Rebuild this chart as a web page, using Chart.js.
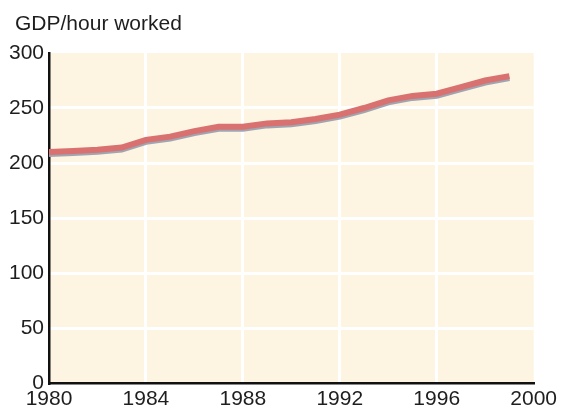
<!DOCTYPE html>
<html>
<head>
<meta charset="utf-8">
<script src="https://cdn.jsdelivr.net/npm/chart.js@4"></script>
<style>
  html, body { margin: 0; padding: 0; background: #fff; }
  #wrap { width: 561px; height: 410px; }
</style>
</head>
<body>
<div id="wrap"><canvas id="chart" width="561" height="410"></canvas></div>
<script>
// Values
const years = [1980, 1981, 1982, 1983, 1984, 1985, 1986, 1987, 1988, 1989,
               1990, 1991, 1992, 1993, 1994, 1995, 1996, 1997, 1998, 1999];
const gdpPerHour = [210, 211, 212, 214, 221, 224, 229, 233, 233, 236,
                    237, 240, 244, 250, 257, 261, 263, 269, 275, 279];
const xTicks = [1980, 1984, 1988, 1992, 1996, 2000];
const yTicks = [0, 50, 100, 150, 200, 250, 300];
const unitLabel = 'GDP/hour worked';

const font = 'Liberation Sans, Arial, sans-serif';
const fontSize = 21;

// cream plot background
const bgPlugin = {
    id: 'plotBg',
    beforeDraw(chart) {
        const { ctx, chartArea: a } = chart;
        ctx.save();
        ctx.fillStyle = '#fdf4e1';
        ctx.fillRect(a.left, a.top, a.right - a.left, a.bottom - a.top);
        ctx.restore();
    }
};

// grey drop shadow under the line
const shadowPlugin = {
    id: 'lineShadow',
    beforeDatasetDraw(chart) {
        const ctx = chart.ctx;
        ctx.save();
        ctx.shadowColor = '#a0a5b2';
        ctx.shadowOffsetX = 0;
        ctx.shadowOffsetY = 2;
        ctx.shadowBlur = 0;
    },
    afterDatasetDraw(chart) {
        chart.ctx.restore();
    }
};

// unit label above the y axis
const unitPlugin = {
    id: 'unitLabel',
    afterDraw(chart) {
        const ctx = chart.ctx;
        ctx.save();
        ctx.fillStyle = '#1e1e1e';
        ctx.font = fontSize + 'px ' + font;
        ctx.textAlign = 'left';
        ctx.textBaseline = 'alphabetic';
        ctx.fillText(unitLabel, 15, 30);
        ctx.restore();
    }
};

const edgeGrid = (ctx, ends) => ends.includes(ctx.tick.value) ? 'rgba(0,0,0,0)' : '#ffffff';

new Chart(document.getElementById('chart'), {
    type: 'line',
    data: {
        datasets: [{
            data: years.map((y, i) => ({ x: y, y: gdpPerHour[i] })),
            borderColor: '#d8716f',
            borderWidth: 6,
            pointRadius: 0,
            tension: 0,
            fill: false
        }]
    },
    options: {
        responsive: false,
        animation: false,
        layout: { padding: { top: 53, right: 26, left: 0, bottom: 0 } },
        plugins: { legend: { display: false }, tooltip: { enabled: false } },
        scales: {
            x: {
                type: 'linear',
                min: 1980,
                max: 2000,
                afterBuildTicks: s => { s.ticks = xTicks.map(v => ({ value: v })); },
                afterFit: s => { s.height = 27; },
                grid: { color: c => edgeGrid(c, [1980, 2000]), lineWidth: 3, drawTicks: false },
                border: { color: '#111', width: 2.5 },
                ticks: {
                    color: '#1e1e1e', padding: 4, maxRotation: 0,
                    font: { family: font, size: fontSize },
                    callback: v => String(v)
                }
            },
            y: {
                min: 0,
                max: 300,
                afterBuildTicks: s => { s.ticks = yTicks.map(v => ({ value: v })); },
                afterFit: s => { s.width = 49; },
                grid: { color: c => edgeGrid(c, [0, 300]), lineWidth: 3, drawTicks: false },
                border: { color: '#111', width: 2.5 },
                ticks: {
                    color: '#1e1e1e', padding: 5,
                    font: { family: font, size: fontSize }
                }
            }
        }
    },
    plugins: [bgPlugin, shadowPlugin, unitPlugin]
});
</script>
</body>
</html>
